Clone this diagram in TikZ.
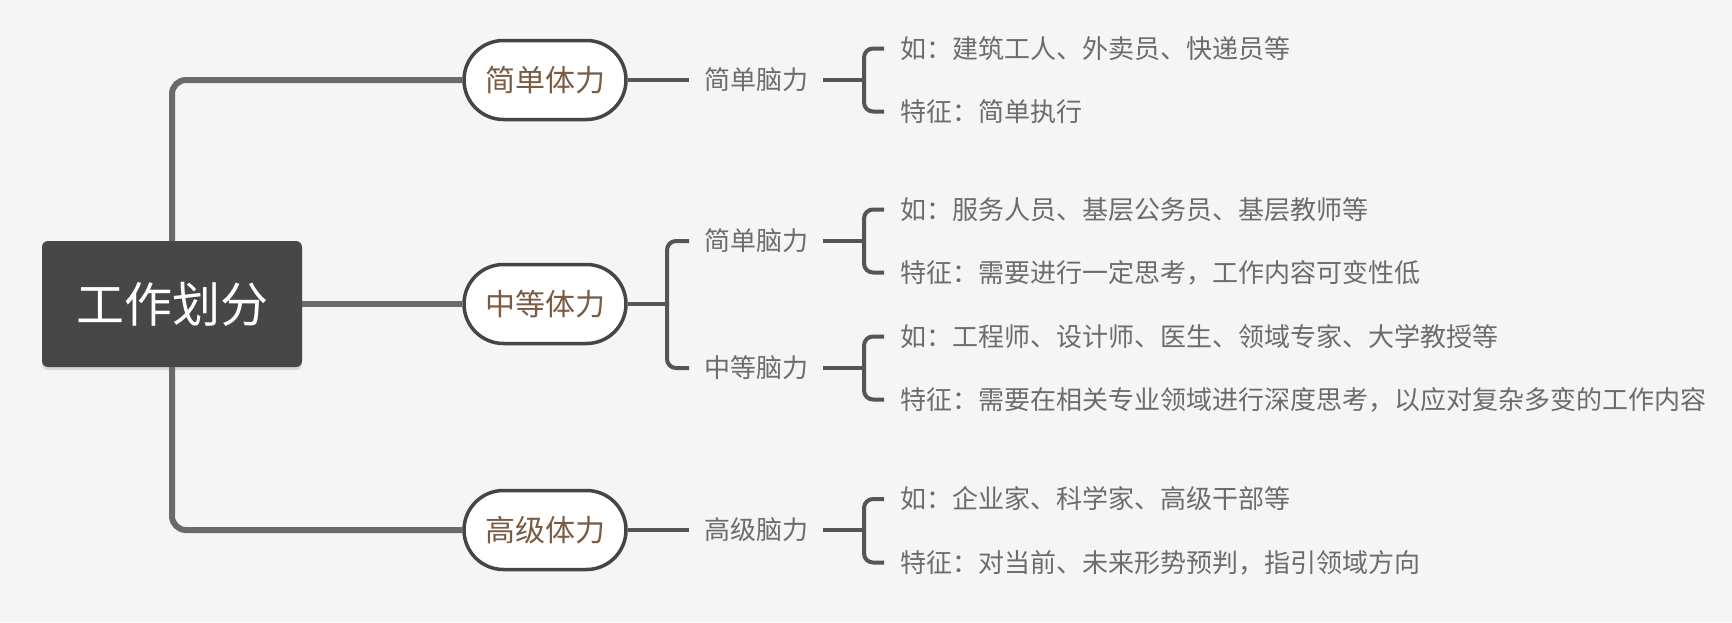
\documentclass[tikz,border=0pt]{standalone}
\usepackage{fontspec}
\newfontfamily\cjk{Noto Sans CJK SC}
\usetikzlibrary{shapes.misc, shadows}
\definecolor{bgcol}{HTML}{F5F5F5}
\definecolor{rootcol}{HTML}{474747}
\definecolor{trunkcol}{HTML}{6A6A6A}
\definecolor{branchcol}{HTML}{555555}
\definecolor{pillcol}{HTML}{454545}
\definecolor{pilltext}{HTML}{7A5C44}
\definecolor{textcol}{HTML}{6C6C6C}
\tikzset{
  root/.style={rectangle, rounded corners=6pt, fill=rootcol, text=white, minimum width=260pt, minimum height=126pt, font=\cjk\fontsize{48}{48}\selectfont, drop shadow={shadow xshift=0pt, shadow yshift=-3pt, opacity=0.25}},
  pill/.style={rounded rectangle, draw=pillcol, line width=3.5pt, fill=white, text=pilltext, minimum width=162pt, minimum height=79pt, inner sep=0pt, font=\cjk\fontsize{30}{30}\selectfont},
  mid/.style={anchor=west, inner xsep=15pt, inner ysep=0pt, text height=22pt, text depth=3pt, text=textcol, font=\cjk\fontsize{26}{26}\selectfont},
  leaf/.style={anchor=west, inner xsep=16pt, inner ysep=0pt, text height=22pt, text depth=3pt, text=textcol, font=\cjk\fontsize{26}{26}\selectfont},
  trunk/.style={draw=trunkcol, line width=6pt, rounded corners=14pt},
  branch/.style={draw=branchcol, line width=4pt, rounded corners=9pt}
}

\begin{document}
\begin{tikzpicture}[x=1pt, y=-1pt]
\fill[bgcol] (0,0) rectangle (1732,622);
\useasboundingbox (0,0) rectangle (1732,622);
% root and first level
\node[root] (R) at (172,304) {工作划分};
\node[pill] (P1) at (545,80) {简单体力};
\node[pill] (P2) at (545,304) {中等体力};
\node[pill] (P3) at (545,530) {高级体力};
\draw[trunk] (R.north) |- (P1.west);
\draw[trunk] (R.east) -- (P2.west);
\draw[trunk] (R.south) |- (P3.west);
% second level
\node[mid] (M1) at (689,80) {简单脑力};
\node[mid] (M2) at (689,241) {简单脑力};
\node[mid] (M3) at (689,368) {中等脑力};
\node[mid] (M4) at (689,530) {高级脑力};
\coordinate (K2) at (667,304);
\draw[branch] (P1.east) -- (M1.west);
\draw[branch] (P2.east) -- (K2);
\draw[branch] (M2.west) -| (K2) |- (M3.west);
\draw[branch] (P3.east) -- (M4.west);
% third level
\node[leaf] (L1A) at (884,48.5) {如：建筑工人、外卖员、快递员等};
\node[leaf] (L1B) at (884,111.5) {特征：简单执行};
\node[leaf] (L2A) at (884,209.5) {如：服务人员、基层公务员、基层教师等};
\node[leaf] (L2B) at (884,272.5) {特征：需要进行一定思考，工作内容可变性低};
\node[leaf] (L3A) at (884,336.5) {如：工程师、设计师、医生、领域专家、大学教授等};
\node[leaf] (L3B) at (884,399.5) {特征：需要在相关专业领域进行深度思考，以应对复杂多变的工作内容};
\node[leaf] (L4A) at (884,499) {如：企业家、科学家、高级干部等};
\node[leaf] (L4B) at (884,562.5) {特征：对当前、未来形势预判，指引领域方向};
\coordinate (Q1) at (864,80);
\coordinate (Q2) at (864,241);
\coordinate (Q3) at (864,368);
\coordinate (Q4) at (864,530);
\draw[branch] (M1.east) -- (Q1);
\draw[branch] (L1A.west) -| (Q1) |- (L1B.west);
\draw[branch] (M2.east) -- (Q2);
\draw[branch] (L2A.west) -| (Q2) |- (L2B.west);
\draw[branch] (M3.east) -- (Q3);
\draw[branch] (L3A.west) -| (Q3) |- (L3B.west);
\draw[branch] (M4.east) -- (Q4);
\draw[branch] (L4A.west) -| (Q4) |- (L4B.west);
\end{tikzpicture}
\end{document}
